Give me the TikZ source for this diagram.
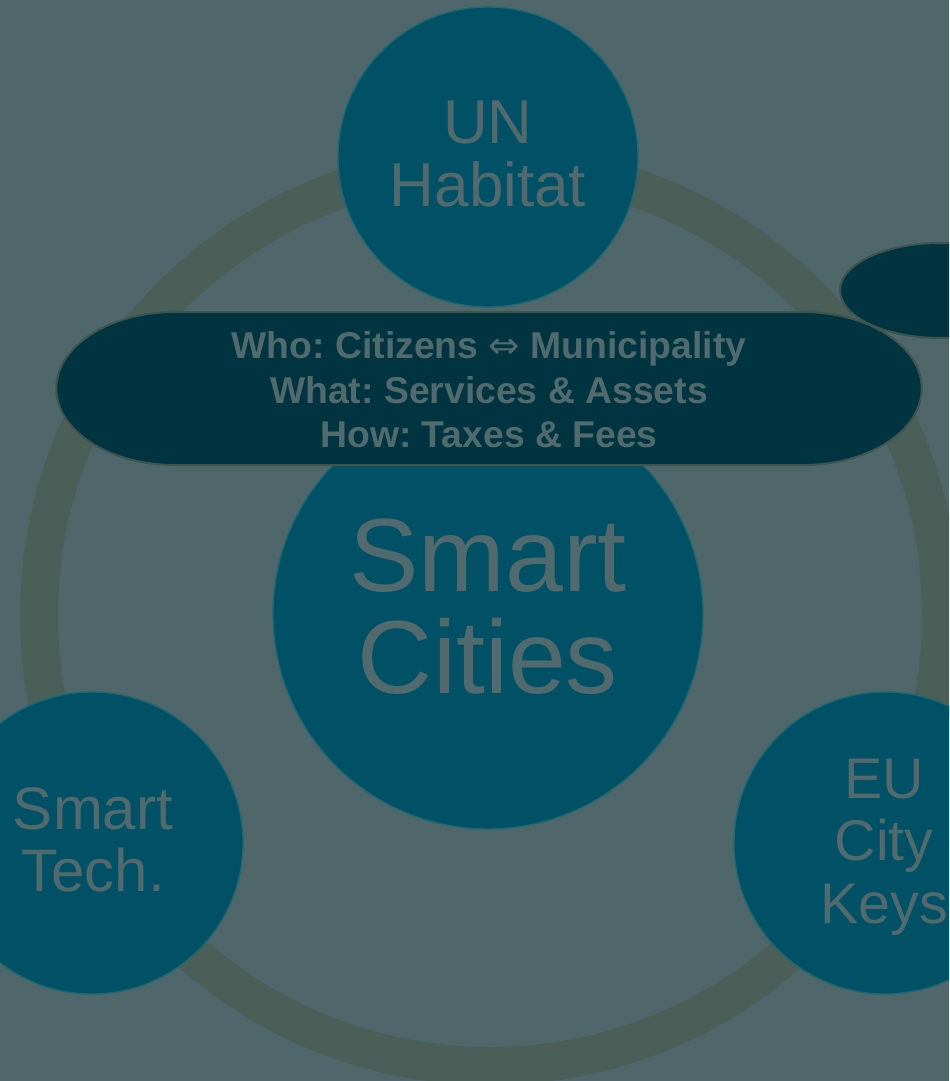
\documentclass[tikz,border=0pt]{standalone}
\usepackage{fontspec}
\setmainfont{Liberation Sans}
\newfontfamily\arrowfont{DejaVu Sans}
\frenchspacing
\definecolor{backdrop}{RGB}{79,103,106}
\definecolor{ringcol}{RGB}{73,95,88}
\definecolor{bubblecol}{RGB}{0,81,102}
\definecolor{bubblerim}{RGB}{30,104,114}
\definecolor{bannercol}{RGB}{0,52,65}
\definecolor{bannerline}{RGB}{62,84,78}
\definecolor{faint}{RGB}{80,106,110}
\tikzset{
	bubble/.style={fill=bubblecol, draw=bubblerim, line width=1pt},
	banner/.style={fill=bannercol, draw=bannerline, line width=1.5pt},
	tag/.style={text=faint, align=center, inner sep=0pt}
}
\begin{document}
\begin{tikzpicture}[x=0.75pt,y=-0.75pt]
	\useasboundingbox (0,0) rectangle (949,1081);
	\clip (0,0) rectangle (949,1081);
	\fill[backdrop] (0,0) rectangle (949,1081);
	\draw[ringcol, line width=28.5pt] (490,615) circle [radius=338.25pt];
	\filldraw[bubble] (488,614) circle [radius=161.25pt];
	\filldraw[bubble] (488,157) circle [radius=112.5pt];
	\filldraw[bubble] (92,843) circle [radius=113.25pt];
	\filldraw[bubble] (885,843) circle [radius=113.25pt];
	\node[tag, font=\fontsize{78}{76.5}\selectfont] (cities) at (488,607) {Smart\\Cities};
	\node[tag, font=\fontsize{46.5}{47}\selectfont] (habitat) at (488,154) {UN\\Habitat};
	\node[tag, font=\fontsize{45}{46}\selectfont] (tech) at (93,840) {Smart\\Tech.};
	\node[tag, font=\fontsize{43}{47}\selectfont] (keys) at (884,847) {EU\\City\\Keys};
	% banners
	\filldraw[banner] (175,312) -- (803,312) arc[start angle=90, end angle=-90, x radius=89pt, y radius=57.4pt]
		-- (175,465) arc[start angle=270, end angle=90, x radius=89pt, y radius=57.4pt] -- cycle;
	\filldraw[banner] (940,243) arc[start angle=90, end angle=270, x radius=75pt, y radius=35.6pt]
		-- (1100,338) -- (1100,243) -- cycle;
	\node[tag, font=\bfseries\fontsize{28}{33.4}\selectfont] (who) at (489,390)
		{Who: Citizens {\arrowfont\mdseries ⇔} Municipality\\What: Services \& Assets\\How: Taxes \& Fees};
\end{tikzpicture}
\end{document}
